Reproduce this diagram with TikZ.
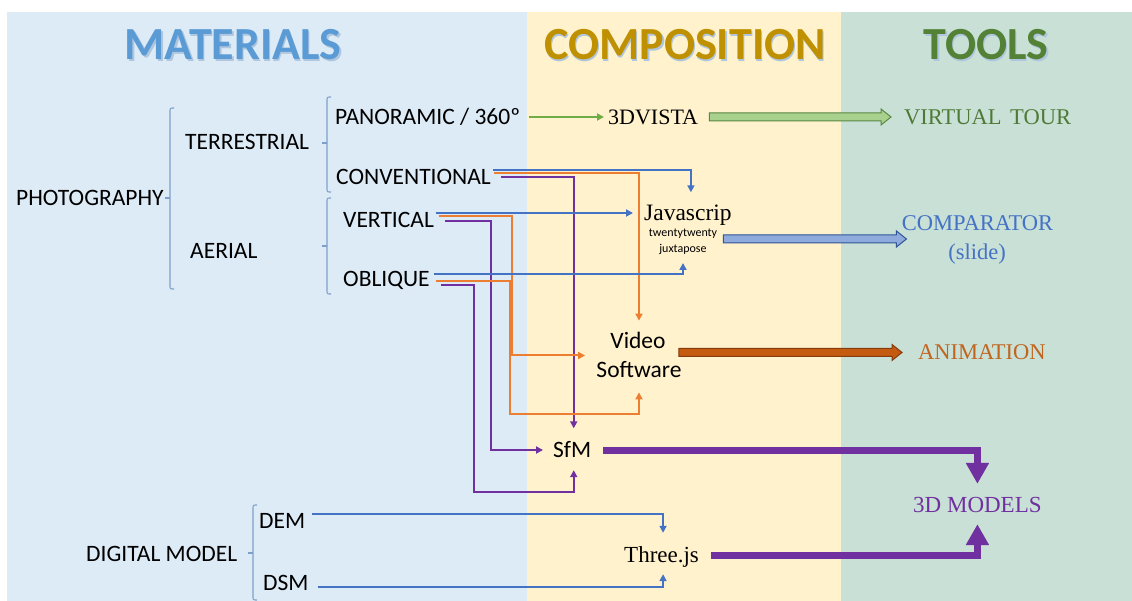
\documentclass[tikz,border=0pt]{standalone}
\usepackage{fontspec}
\setmainfont{Liberation Serif}
\newfontfamily\calfont{Carlito}
\usetikzlibrary{arrows.meta,calc,fit}
\definecolor{bgblue}{HTML}{DDEBF7}
\definecolor{bgyellow}{HTML}{FFF2CC}
\definecolor{bggreen}{HTML}{C9E0D6}
\definecolor{hblue}{HTML}{5B9BD5}
\definecolor{hgold}{HTML}{BF9000}
\definecolor{hgreen}{HTML}{538135}
\definecolor{hshadow}{HTML}{AFC6DE}
\definecolor{brkcol}{HTML}{7F9FCB}
\definecolor{cblue}{HTML}{4472C4}
\definecolor{corange}{HTML}{ED7D31}
\definecolor{cpurple}{HTML}{7030A0}
\definecolor{cgreen}{HTML}{70AD47}
\definecolor{gfill}{HTML}{A9D18E}
\definecolor{gdraw}{HTML}{5A8743}
\definecolor{bfill}{HTML}{8FAADC}
\definecolor{bdraw}{HTML}{2F5597}
\definecolor{rfill}{HTML}{C55A11}
\definecolor{rdraw}{HTML}{843C0C}
\definecolor{tgreen}{HTML}{4E7A36}
\definecolor{tblue}{HTML}{4472C4}
\definecolor{torange}{HTML}{C0651F}
\newcommand\mybracket[4]{%
  \draw[brk] (#1+4,#2) .. controls (#1,#2) .. (#1,#2+4) -- (#1,#3-4) .. controls (#1,#3) .. (#1+4,#3);
  \draw[brk] (#1,#4) -- (#1-5,#4);}
\newcommand\blockarrow[4]{%
  \draw[draw=#4, fill=#3, line width=1pt, line join=miter] let \p1=(#1), \p2=(#2) in
  (\x1,\y1+4pt) -- (\x2-10pt,\y1+4pt) -- (\x2-10pt,\y1+8pt) -- (\x2,\y1)
  -- (\x2-10pt,\y1-8pt) -- (\x2-10pt,\y1-4pt) -- (\x1,\y1-4pt) -- cycle;}
\begin{document}
\begin{tikzpicture}[x=1pt,y=-1pt,
  head/.style={font=\calfont\bfseries\fontsize{46}{50}\selectfont, inner sep=0pt},
  sans/.style={font=\calfont\fontsize{23.5}{28}\selectfont, inner sep=0pt, text height=15pt, text depth=0pt, anchor=west},
  tiny/.style={font=\calfont\fontsize{12}{14}\selectfont, inner sep=0pt},
  serif/.style={font=\fontsize{22.5}{27}\selectfont, inner sep=0pt, text height=15pt, text depth=0pt, anchor=west},
  brk/.style={draw=brkcol, line width=1.1pt},
  conn/.style={line width=2pt, -{Triangle[length=7pt,width=7pt]}},
  fat/.style={draw=cpurple, line width=7pt, -{Triangle[length=21pt,width=22pt]}}]
\useasboundingbox (0,0) rectangle (1132,601);
\fill[white] (0,0) rectangle (1132,601);
\fill[bgblue] (7,12) rectangle (527,601);
\fill[bgyellow] (527,12) rectangle (841,601);
\fill[bggreen] (841,12) rectangle (1132,601);
% headers
\node[head, text=hshadow] at (234.5,46.5) {MATERIALS};
\node[head, text=hblue] (hmat) at (233,45) {MATERIALS};
\node[head, text=hshadow] at (686.5,46.5) {COMPOSITION};
\node[head, text=hgold] (hcomp) at (685,45) {COMPOSITION};
\node[head, text=hshadow] at (987.5,46.5) {TOOLS};
\node[head, text=hgreen] (htools) at (986,45) {TOOLS};
% brackets
\mybracket{170}{108}{289}{198}
\mybracket{327}{97}{192}{143}
\mybracket{327}{198}{294}{246}
\mybracket{253}{505}{600}{553}
% materials
\node[sans] (photo) at (16,198) {PHOTOGRAPHY};
\node[sans] (terr) at (185,142) {TERRESTRIAL};
\node[sans] (aer) at (190,251) {AERIAL};
\node[sans] (pano) at (335,117) {PANORAMIC / 360º};
\node[sans] (conv) at (336,177) {CONVENTIONAL};
\node[sans] (vert) at (343,220) {VERTICAL};
\node[sans] (obl) at (343,279) {OBLIQUE};
\node[sans] (dig) at (86,554) {DIGITAL MODEL};
\node[sans] (dem) at (259,521) {DEM};
\node[sans] (dsm) at (263,583) {DSM};
% composition
\node[serif, font=\fontsize{22}{26}\selectfont] (vista) at (608,117) {3DVISTA};
\node[serif, font=\fontsize{23.5}{28}\selectfont] (js) at (644,213) {Javascrip};
\node[tiny] (tw) at (683,234) {twentytwenty};
\node[tiny] (jx) at (683,249) {juxtapose};
\node[sans, anchor=center] (vid) at (638,341) {Video};
\node[sans, anchor=center] (soft) at (639,370) {Software};
\node[fit=(vid)(soft), inner sep=0pt] (vs) {};
\node[sans] (sfm) at (553,450) {SfM};
\node[serif, font=\fontsize{23}{27}\selectfont] (three) at (624,555) {Three.js};
% tools
\node[serif, text=tgreen] (vt) at (904,117) {VIRTUAL\kern3pt\ TOUR};
\node[serif, anchor=center, text=tblue] (comp1) at (977.5,223) {COMPARATOR};
\node[serif, anchor=center, text=tblue] (comp2) at (977,252) {(slide)};
\node[fit=(comp1)(comp2), inner sep=0pt] (comp) {};
\node[serif, text=torange] (anim) at (918,352) {ANIMATION};
\node[serif, font=\fontsize{23}{27}\selectfont, text=cpurple] (m3d) at (913,505) {3D MODELS};
% thin connectors
\draw[conn, cgreen] ([xshift=9pt]pano.east) -- ([xshift=-4pt]vista.west);
\draw[conn, cblue] ([shift={(2,-7)}]conv.east) -| ([shift={(3,-13)}]js.north);
\draw[conn, corange] ([shift={(3,-4)}]conv.east) -| ([yshift=12.5pt]vs.north);
\draw[conn, cpurple] ([shift={(10,0)}]conv.east) -| ([shift={(1.5,-14)}]sfm.north);
\draw[conn, cblue] ([shift={(2,-7)}]vert.east) -- ([xshift=-11pt]js.west);
\draw[conn, corange] ([shift={(5,-4)}]vert.east) -- ++(73,0) |- ([xshift=-11pt]vs.west);
\draw[conn, cpurple] ([shift={(11,1)}]vert.east) -- ++(46,0) |- ([xshift=-10pt]sfm.west);
\draw[conn, cblue] ([shift={(4,-5)}]obl.east) -| ([yshift=-14pt]jx.center);
\draw[conn, corange] ([shift={(6,2)}]obl.east) -- ++(74,0) -- ++(0,133) -| ([yshift=-14.5pt]vs.south);
\draw[conn, cpurple] ([shift={(11,6)}]obl.east) -- ++(33,0) -- ++(0,207) -| ([shift={(1.5,12.5)}]sfm.south);
\draw[conn, cblue] ([shift={(7,-7)}]dem.east) -| ([shift={(1.5,-14.5)}]three.north);
\draw[conn, cblue] ([shift={(9,4)}]dsm.east) -| ([shift={(1.5,11.5)}]three.south);
% block arrows
\blockarrow{[xshift=11pt]vista.east}{[xshift=-13pt]vt.west}{gfill}{gdraw}
\blockarrow{[shift={(6,5)}]tw.east}{[xshift=5pt]comp.west}{bfill}{bdraw}
\blockarrow{[shift={(-3,-3)}]vs.east}{[xshift=-16pt]anim.west}{rfill}{rdraw}
% fat purple arrows
\draw[fat] ([xshift=12pt]sfm.east) -| ([yshift=13.5pt]m3d.north);
\draw[fat] ([xshift=12pt]three.east) -| ([yshift=-11.5pt]m3d.south);
\end{tikzpicture}
\end{document}
